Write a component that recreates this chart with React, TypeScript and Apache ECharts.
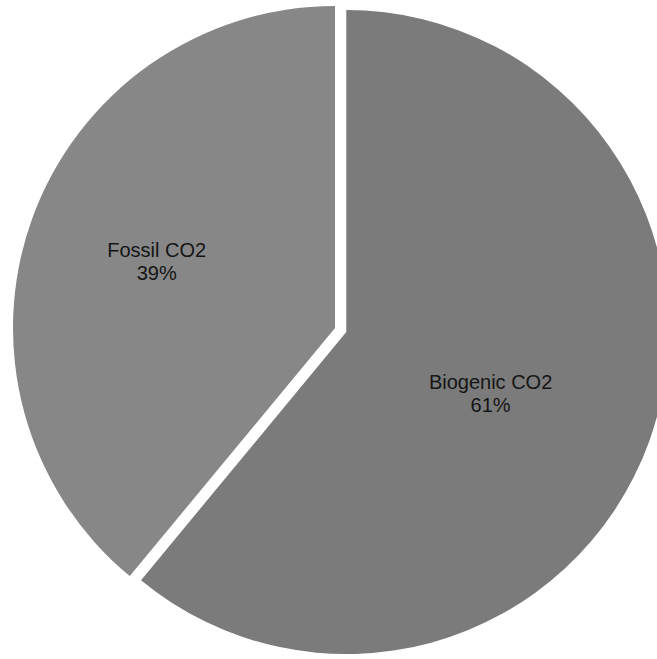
import React, { useEffect, useRef } from "react";
import * as echarts from "echarts";

const categories = ["Biogenic CO2", "Fossil CO2"];
const values = [61, 39];
const colors = ["#7b7b7b", "#878787"];
const labelShift = [
  [-10, 6],
  [-24, -11],
];

export default function App() {
  const ref = useRef<HTMLDivElement>(null);
  useEffect(() => {
    if (!ref.current) return;
    const chart = echarts.init(ref.current, undefined, { renderer: "svg" });
    chart.setOption({
      animation: false,
      backgroundColor: "#ffffff",
      series: [
        {
          type: "pie",
          center: [335, 328],
          radius: 322,
          startAngle: 90,
          clockwise: true,
          selectedMode: "single",
          selectedOffset: 12,
          silent: true,
          label: {
            show: true,
            position: "inside",
            formatter: "{b}\n{d}%",
            fontFamily: "Liberation Sans, Arial, sans-serif",
            fontSize: 20,
            lineHeight: 23,
            color: "#151515",
            align: "center",
          },
          labelLine: { show: false },
          labelLayout: (p: any) => ({
            dx: labelShift[p.dataIndex][0],
            dy: labelShift[p.dataIndex][1],
          }),
          itemStyle: { borderWidth: 0 },
          emphasis: { disabled: true },
          data: categories.map((c, i) => ({
            name: c,
            value: values[i],
            selected: i === 0,
            itemStyle: { color: colors[i] },
          })),
        },
      ],
    });
    return () => chart.dispose();
  }, []);
  return (
    <div
      ref={ref}
      style={{ position: "fixed", left: 0, top: 0, width: 657, height: 659 }}
    />
  );
}
